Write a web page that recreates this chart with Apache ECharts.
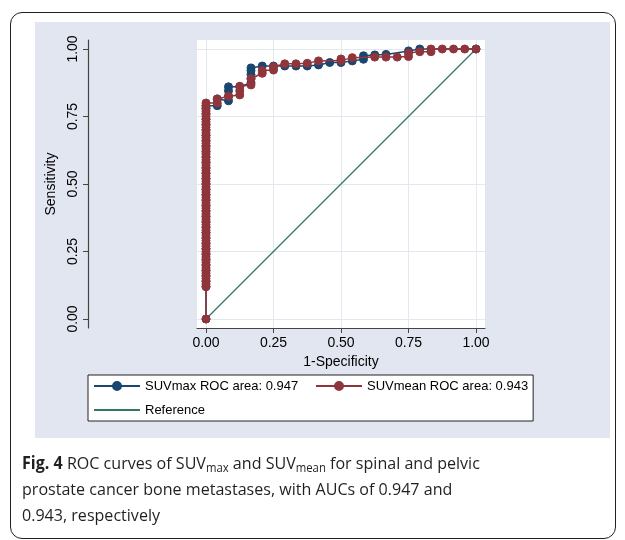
<!DOCTYPE html>
<html><head><meta charset="utf-8">
<script src="https://cdn.jsdelivr.net/npm/echarts@6/dist/echarts.min.js"></script>
<style>
html,body{margin:0;padding:0;background:#fff;}
#wrap{position:relative;width:625px;height:540px;overflow:hidden;}
#frame{position:absolute;left:10px;top:12px;width:606px;height:527px;border:1.5px solid #231f20;border-radius:12px;box-sizing:border-box;}
#panel{position:absolute;left:35px;top:22px;width:575px;height:416px;background:#e2e6f0;}
#chart{position:absolute;left:0;top:0;width:625px;height:540px;}
#caption{position:absolute;left:22px;top:450px;width:640px;font-family:"Liberation Sans Narrow","Open Sans",sans-serif;font-size:17px;line-height:26px;color:#231f20;white-space:nowrap;transform:scaleX(0.945);transform-origin:0 0;}
#caption sub{font-size:12px;line-height:0;vertical-align:-3px;}
</style></head>
<body>
<div id="wrap">
  <div id="frame"></div>
  <div id="panel"></div>
  <div id="chart"></div>
  <div id="caption"><b>Fig. 4</b> ROC curves of SUV<sub>max</sub> and SUV<sub>mean</sub> for spinal and pelvic<br>prostate cancer bone metastases, with AUCs of 0.947 and<br>0.943, respectively</div>
</div>
<script>
const tickValues = [0, 0.25, 0.5, 0.75, 1];
const tickLabels = ['0.00', '0.25', '0.50', '0.75', '1.00'];
const seriesNames = ['SUVmax ROC area: 0.947', 'SUVmean ROC area: 0.943', 'Reference'];

// [1-Specificity, Sensitivity]
const suvmaxPoints = [
  [0,0],[0,0.12],[0,0.14],[0,0.16],[0,0.18],[0,0.20],[0,0.22],[0,0.24],[0,0.26],[0,0.28],
  [0,0.30],[0,0.32],[0,0.34],[0,0.36],[0,0.38],[0,0.40],[0,0.42],[0,0.44],[0,0.46],[0,0.48],
  [0,0.50],[0,0.52],[0,0.54],[0,0.56],[0,0.58],[0,0.60],[0,0.62],[0,0.64],[0,0.66],[0,0.68],
  [0,0.70],[0,0.72],[0,0.74],[0,0.76],[0,0.78],[0,0.79],
  [0.0417,0.79],[0.0417,0.815],
  [0.0833,0.808],[0.0833,0.825],[0.0833,0.845],[0.0833,0.86],
  [0.125,0.86],
  [0.1667,0.875],[0.1667,0.89],[0.1667,0.905],[0.1667,0.92],[0.1667,0.93],
  [0.2083,0.937],[0.25,0.937],[0.2917,0.937],[0.3333,0.937],[0.375,0.937],
  [0.4167,0.941],[0.4583,0.95],[0.5,0.95],[0.5417,0.956],
  [0.5833,0.962],[0.5833,0.975],
  [0.625,0.978],[0.6667,0.98],
  [0.75,0.993],[0.7917,1],[1,1]
];
const suvmeanPoints = [
  [0,0],
  [0,0.12],[0,0.13],[0,0.14],[0,0.15],[0,0.16],[0,0.17],[0,0.18],[0,0.19],[0,0.20],[0,0.21],
  [0,0.22],[0,0.23],[0,0.24],[0,0.25],[0,0.26],[0,0.27],[0,0.28],[0,0.29],[0,0.30],[0,0.31],
  [0,0.32],[0,0.33],[0,0.34],[0,0.35],[0,0.36],[0,0.37],[0,0.38],[0,0.39],[0,0.40],[0,0.41],
  [0,0.42],[0,0.43],[0,0.44],[0,0.45],[0,0.46],[0,0.47],[0,0.48],[0,0.49],[0,0.50],[0,0.51],
  [0,0.52],[0,0.53],[0,0.54],[0,0.55],[0,0.56],[0,0.57],[0,0.58],[0,0.59],[0,0.60],[0,0.61],
  [0,0.62],[0,0.63],[0,0.64],[0,0.65],[0,0.66],[0,0.67],[0,0.68],[0,0.69],[0,0.70],[0,0.71],
  [0,0.72],[0,0.73],[0,0.74],[0,0.75],[0,0.76],[0,0.77],[0,0.78],[0,0.79],[0,0.80],
  [0.0417,0.80],[0.0417,0.815],
  [0.0833,0.825],
  [0.125,0.83],[0.125,0.845],[0.125,0.862],
  [0.1667,0.867],[0.1667,0.89],
  [0.2083,0.91],[0.2083,0.92],
  [0.25,0.922],[0.25,0.934],
  [0.2917,0.945],[0.3333,0.945],[0.375,0.947],[0.4167,0.956],
  [0.5,0.957],[0.5,0.963],[0.5417,0.968],
  [0.625,0.97],[0.6667,0.97],[0.7083,0.97],
  [0.75,0.972],[0.75,0.985],
  [0.7917,0.99],[0.8333,0.99],[0.8333,1],
  [0.875,1],[0.9167,1],[0.9583,1],[1,1]
];
const referencePoints = [[0,0],[1,1]];

const FONT = '"Liberation Sans", Arial, Helvetica, sans-serif';
const chart = echarts.init(document.getElementById('chart'), null, {renderer:'canvas'});
const fmt = v => { const i = tickValues.indexOf(Math.round(v*100)/100); return i >= 0 ? tickLabels[i] : ''; };
chart.setOption({
  animation: false,
  backgroundColor: 'transparent',
  grid: {left:197, top:40, width:288, height:288, show:true, backgroundColor:'#ffffff', borderWidth:0, containLabel:false, outerBoundsMode:'none'},
  xAxis: {
    type:'value', min:-1/30, max:1+1/30,
    axisLine:{show:true, onZero:false, lineStyle:{color:'#444', width:1.2}},
    axisTick:{show:true, inside:false, length:5, customValues:tickValues, lineStyle:{color:'#444'}},
    axisLabel:{customValues:tickValues, formatter:fmt, fontSize:14, color:'#000', fontFamily:FONT, margin:8},
    splitLine:{show:true, lineStyle:{color:'#e1e8f0', width:1}},
    name:'1-Specificity', nameLocation:'middle', nameGap:22,
    nameTextStyle:{fontSize:14, color:'#000', fontFamily:FONT}
  },
  yAxis: {
    type:'value', min:-1/30, max:1+1/30, offset:109,
    axisLine:{show:true, onZero:false, lineStyle:{color:'#444', width:1.2}},
    axisTick:{show:true, inside:false, length:5, customValues:tickValues, lineStyle:{color:'#444'}},
    axisLabel:{customValues:tickValues, formatter:fmt, fontSize:14, color:'#000', fontFamily:FONT, rotate:90, margin:8},
    splitLine:{show:true, lineStyle:{color:'#e1e8f0', width:1}},
    name:'Sensitivity', nameLocation:'middle', nameGap:30, nameRotate:90,
    nameTextStyle:{fontSize:14, color:'#000', fontFamily:FONT}
  },
  legend: {
    data: [
      {name:seriesNames[0]},
      {name:seriesNames[1]},
      {name:seriesNames[2], itemStyle:{opacity:0}}
    ],
    left:88, top:375, orient:'horizontal', width:438,
    padding:[4,5,4,5], itemWidth:46, itemHeight:10, itemGap:10,
    backgroundColor:'#ffffff', borderColor:'#222', borderWidth:1,
    textStyle:{fontSize:13, color:'#000', fontFamily:FONT, width:160, lineHeight:14},
    selectedMode:false
  },
  series: [
    {name:seriesNames[2], type:'line', data:referencePoints, symbol:'none', z:2,
     lineStyle:{color:'#337766', width:1.2}, itemStyle:{color:'#337766'}},
    {name:seriesNames[0], type:'line', data:suvmaxPoints, symbol:'circle', symbolSize:8, showAllSymbol:true, z:3,
     lineStyle:{color:'#1a476f', width:1.5}, itemStyle:{color:'#1a476f', borderColor:'#1a476f', borderWidth:1}},
    {name:seriesNames[1], type:'line', data:suvmeanPoints, symbol:'circle', symbolSize:8, showAllSymbol:true, z:4,
     lineStyle:{color:'#90353b', width:1.5}, itemStyle:{color:'#90353b', borderColor:'#90353b', borderWidth:1}}
  ]
});
</script>
</body></html>
